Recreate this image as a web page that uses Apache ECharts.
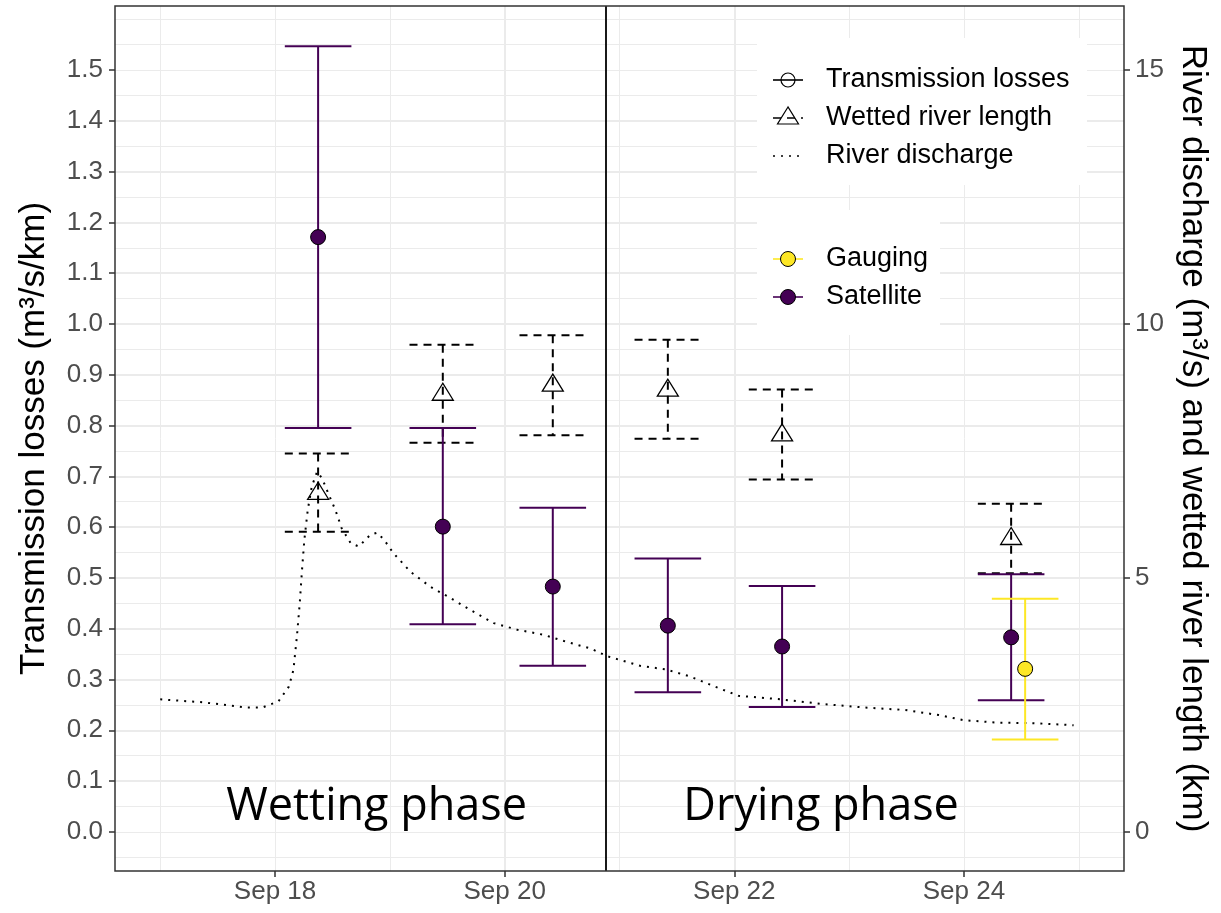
<!DOCTYPE html>
<html>
<head>
<meta charset="utf-8">
<title>Transmission losses</title>
<script src="https://cdn.jsdelivr.net/npm/echarts@6/dist/echarts.min.js"></script>
<style>
  html, body { margin: 0; padding: 0; background: #fff; }
  #chart { width: 1221px; height: 913px; }
</style>
</head>
<body>
<div id="chart"></div>
<script>
// x values are days of September (fractional)
const sampleDays = [18.375, 19.461, 20.419, 21.421, 22.416, 24.411];
const lossSat = [1.171, 0.601, 0.483, 0.406, 0.365, 0.383];
const lossSatLow = [0.795, 0.409, 0.327, 0.275, 0.246, 0.259];
const lossSatHigh = [1.547, 0.795, 0.638, 0.538, 0.484, 0.507];

const gaugeDays = [24.533];
const lossGauge = [0.321];
const lossGaugeLow = [0.182];
const lossGaugeHigh = [0.459];

const wettedLen = [6.66, 8.61, 8.79, 8.69, 7.81, 5.77];
const wettedLow = [5.91, 7.66, 7.81, 7.74, 6.94, 5.09];
const wettedHigh = [7.45, 9.59, 9.78, 9.69, 8.71, 6.46];

const dischargeDays = [17.0, 17.38, 17.74, 17.89, 18.03, 18.12, 18.16, 18.19, 18.215, 18.235,
  18.255, 18.285, 18.32, 18.366, 18.41, 18.47, 18.525, 18.58, 18.66, 18.73, 18.83, 18.89,
  18.95, 19.03, 19.18, 19.35, 19.53, 19.70, 19.905, 20.11, 20.34, 20.54, 20.75, 20.89,
  21.18, 21.40, 21.615, 21.82, 22.036, 22.40, 22.76, 23.125, 23.49, 23.78, 23.996, 24.29,
  24.61, 24.955];
const dischargeVal = [2.61, 2.55, 2.45, 2.45, 2.57, 2.86, 3.19, 3.84, 4.50, 5.16,
  5.75, 6.34, 6.80, 7.09, 6.96, 6.63, 6.34, 5.98, 5.68, 5.62, 5.85, 5.89,
  5.75, 5.49, 5.12, 4.83, 4.60, 4.37, 4.11, 3.98, 3.88, 3.74, 3.61, 3.46,
  3.27, 3.20, 3.06, 2.87, 2.68, 2.61, 2.52, 2.45, 2.40, 2.30, 2.20, 2.15,
  2.14, 2.10];

const phaseBoundary = 20.875;
const phaseLabels = ['Wetting phase', 'Drying phase'];
const phaseLabelDays = [18.885, 22.756];
const phaseLabelLevel = 0.048;

const xTicks = [18, 20, 22, 24];
const yTicks = [0, 0.1, 0.2, 0.3, 0.4, 0.5, 0.6, 0.7, 0.8, 0.9, 1.0, 1.1, 1.2, 1.3, 1.4, 1.5];
const y2Ticks = [0, 5, 10, 15];

const X_MIN = 16.606, X_MAX = 25.394;
const Y_MIN = -0.077, Y_MAX = 1.626;
const CAP_HALF = 0.29;

const PURPLE = '#440154';
const YELLOW = '#FDE725';
const GRID_COL = '#EBEBEB';
const FONT = '"Liberation Sans", Arial, sans-serif';

let chart = echarts.init(document.getElementById('chart'));

function errorBars(color, dash) {
  return function (params, api) {
    const x = api.value(0);
    const top = api.coord([x, api.value(2)]);
    const bot = api.coord([x, api.value(1)]);
    const l = api.coord([x - CAP_HALF, api.value(2)])[0];
    const r = api.coord([x + CAP_HALF, api.value(2)])[0];
    const style = { stroke: color, lineWidth: 2, fill: 'none', lineDash: dash };
    return {
      type: 'group',
      children: [
        { type: 'line', shape: { x1: l, y1: top[1], x2: r, y2: top[1] }, style: style },
        { type: 'line', shape: { x1: top[0], y1: top[1], x2: bot[0], y2: bot[1] }, style: style },
        { type: 'line', shape: { x1: l, y1: bot[1], x2: r, y2: bot[1] }, style: style }
      ]
    };
  };
}

function wettedItem(params, api) {
  const bars = errorBars('#000', [8, 6])(params, api);
  const c = api.coord([api.value(0), api.value(3)]);
  const w = 21, h = 17;
  bars.children.push({
    type: 'polygon',
    shape: { points: [[c[0], c[1] - h * 2 / 3], [c[0] - w / 2, c[1] + h / 3], [c[0] + w / 2, c[1] + h / 3]] },
    style: { fill: 'none', stroke: '#000', lineWidth: 1.3 }
  });
  return bars;
}

function phaseText(params, api) {
  const p = api.coord([api.value(0), api.value(1)]);
  return {
    type: 'text',
    style: {
      text: phaseLabels[params.dataIndex],
      x: p[0], y: p[1],
      align: 'center', verticalAlign: 'middle',
      font: '45px "Open Sans", "Noto Sans", sans-serif',
      fill: '#000'
    }
  };
}

const tickStyle = { show: true, length: 6, lineStyle: { color: '#333', width: 1.5 } };
const labelStyle = { color: '#4D4D4D', fontSize: 26, fontFamily: FONT };

// legend, drawn as ggplot-style keys
const legendKeyX = 773, legendKeyW = 30, legendTextX = 826;
const legendTextStyle = { font: '27px ' + FONT, fill: '#000', verticalAlign: 'middle' };
function keyLine(y, color, dash) {
  return { type: 'line', z: 51, shape: { x1: legendKeyX, y1: y, x2: legendKeyX + legendKeyW, y2: y },
    style: { stroke: color, lineWidth: 1.6, lineDash: dash } };
}
function keyText(y, text) {
  return { type: 'text', z: 51, style: Object.assign({ text: text, x: legendTextX, y: y }, legendTextStyle) };
}
const kx = legendKeyX + legendKeyW / 2;
const legendGraphics = [
  { type: 'rect', z: 50, shape: { x: 757, y: 38, width: 330, height: 147 }, style: { fill: '#fff' } },
  keyLine(80, '#000'),
  { type: 'circle', z: 52, shape: { cx: kx, cy: 80, r: 7 }, style: { fill: 'none', stroke: '#000', lineWidth: 1.2 } },
  keyText(80, 'Transmission losses'),
  keyLine(118, '#000', [8, 6]),
  { type: 'polygon', z: 52, shape: { points: [[kx, 107], [kx - 10.5, 124], [kx + 10.5, 124]] },
    style: { fill: 'none', stroke: '#000', lineWidth: 1.2 } },
  keyText(118, 'Wetted river length'),
  keyLine(156, '#000', [2, 6]),
  keyText(156, 'River discharge'),
  { type: 'rect', z: 50, shape: { x: 757, y: 210, width: 183, height: 125 }, style: { fill: '#fff' } },
  keyLine(259, YELLOW),
  { type: 'circle', z: 52, shape: { cx: kx, cy: 259, r: 7.5 }, style: { fill: YELLOW, stroke: '#000', lineWidth: 1 } },
  keyText(259, 'Gauging'),
  keyLine(297, PURPLE),
  { type: 'circle', z: 52, shape: { cx: kx, cy: 297, r: 7.5 }, style: { fill: PURPLE, stroke: '#000', lineWidth: 1 } },
  keyText(297, 'Satellite'),
  // panel border
  { type: 'rect', z: 60, shape: { x: 115, y: 6, width: 1009, height: 865 },
    style: { fill: 'none', stroke: '#333', lineWidth: 1.5 } }
];

let option = {
  animation: false,
  backgroundColor: '#fff',
  grid: { left: 115, right: 97, top: 6, bottom: 42 },
  xAxis: [
    {
      type: 'value', position: 'bottom', min: X_MIN, max: X_MAX, minInterval: 2, maxInterval: 2,
      axisLine: { show: false, onZero: false },
      axisTick: Object.assign({ customValues: xTicks }, tickStyle),
      axisLabel: Object.assign({ customValues: xTicks, margin: 8, formatter: v => 'Sep ' + v }, labelStyle),
      splitLine: { show: true, showMinLine: false, showMaxLine: false, lineStyle: { color: GRID_COL, width: 2 } }
    },
    {
      type: 'value', position: 'bottom', min: X_MIN, max: X_MAX, minInterval: 1, maxInterval: 1,
      axisLine: { show: false, onZero: false }, axisTick: { show: false }, axisLabel: { show: false },
      splitLine: { show: true, showMinLine: false, showMaxLine: false, lineStyle: { color: GRID_COL, width: 1 } }
    }
  ],
  yAxis: [
    {
      type: 'value', position: 'left', min: Y_MIN, max: Y_MAX, minInterval: 0.1, maxInterval: 0.1,
      name: 'Transmission losses (m³/s/km)', nameLocation: 'middle', nameGap: 63,
      nameTextStyle: { fontSize: 35, color: '#000', fontFamily: FONT },
      axisLine: { show: false, onZero: false },
      axisTick: Object.assign({ customValues: yTicks }, tickStyle),
      axisLabel: Object.assign({ customValues: yTicks, margin: 12, formatter: v => v.toFixed(1) }, labelStyle),
      splitLine: { show: true, showMinLine: false, showMaxLine: false, lineStyle: { color: GRID_COL, width: 2 } }
    },
    {
      type: 'value', position: 'right', min: Y_MIN * 10, max: Y_MAX * 10,
      name: 'River discharge (m³/s) and wetted river length (km)', nameLocation: 'middle', nameGap: 46,
      nameRotate: -90,
      nameTextStyle: { fontSize: 35, color: '#000', fontFamily: FONT },
      axisLine: { show: false, onZero: false },
      axisTick: Object.assign({ customValues: y2Ticks }, tickStyle),
      axisLabel: Object.assign({ customValues: y2Ticks, margin: 11, formatter: v => String(v) }, labelStyle),
      splitLine: { show: false }
    },
    {
      type: 'value', position: 'left', min: Y_MIN, max: Y_MAX, minInterval: 0.05, maxInterval: 0.05,
      axisLine: { show: false, onZero: false }, axisTick: { show: false }, axisLabel: { show: false },
      splitLine: { show: true, showMinLine: false, showMaxLine: false, lineStyle: { color: GRID_COL, width: 1 } }
    }
  ],
  graphic: legendGraphics,
  series: [
    {
      name: 'River discharge', type: 'line', xAxisIndex: 0, yAxisIndex: 1,
      data: dischargeDays.map((d, i) => [d, dischargeVal[i]]),
      showSymbol: false, z: 2,
      lineStyle: { color: '#000', width: 2, type: [2, 6] },
      markLine: {
        silent: true, symbol: 'none', label: { show: false },
        lineStyle: { color: '#000', width: 1.8, type: 'solid' },
        data: [{ xAxis: phaseBoundary }]
      }
    },
    {
      name: 'Wetted river length', type: 'custom', xAxisIndex: 0, yAxisIndex: 1, z: 3,
      renderItem: wettedItem,
      encode: { x: 0, y: [1, 2] },
      data: sampleDays.map((d, i) => [d, wettedLow[i], wettedHigh[i], wettedLen[i]])
    },
    {
      name: 'Satellite bars', type: 'custom', xAxisIndex: 0, yAxisIndex: 0, z: 3,
      renderItem: errorBars(PURPLE, null),
      encode: { x: 0, y: [1, 2] },
      data: sampleDays.map((d, i) => [d, lossSatLow[i], lossSatHigh[i]])
    },
    {
      name: 'Gauging bars', type: 'custom', xAxisIndex: 0, yAxisIndex: 0, z: 3,
      renderItem: errorBars(YELLOW, null),
      encode: { x: 0, y: [1, 2] },
      data: gaugeDays.map((d, i) => [d, lossGaugeLow[i], lossGaugeHigh[i]])
    },
    {
      name: 'Satellite', type: 'scatter', xAxisIndex: 0, yAxisIndex: 0, z: 4,
      symbolSize: 15,
      itemStyle: { color: PURPLE, borderColor: '#000', borderWidth: 1, opacity: 1 },
      data: sampleDays.map((d, i) => [d, lossSat[i]])
    },
    {
      name: 'Gauging', type: 'scatter', xAxisIndex: 0, yAxisIndex: 0, z: 4,
      symbolSize: 15,
      itemStyle: { color: YELLOW, borderColor: '#000', borderWidth: 1, opacity: 1 },
      data: gaugeDays.map((d, i) => [d, lossGauge[i]])
    },
    {
      name: 'Phase labels', type: 'custom', xAxisIndex: 0, yAxisIndex: 0, z: 5,
      renderItem: phaseText,
      data: phaseLabelDays.map(d => [d, phaseLabelLevel])
    }
  ]
};

chart.setOption(option);
</script>
</body>
</html>
